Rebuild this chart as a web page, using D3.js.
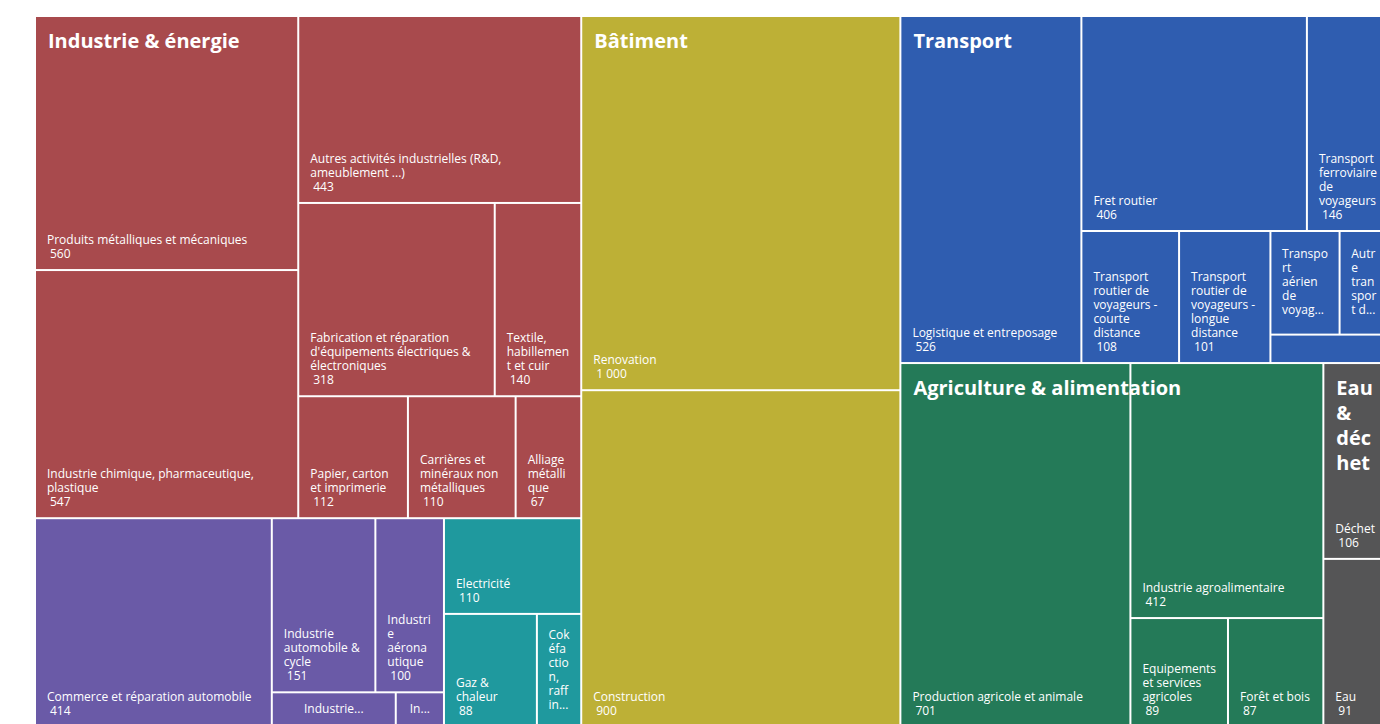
<!DOCTYPE html>
<html>
<head>
<meta charset="utf-8">
<script src="https://cdn.jsdelivr.net/npm/d3@7"></script>
<style>
  body { margin: 0; background: #fff; }
  svg { display: block; }
</style>
</head>
<body>
<section></section>
<script>
// Emplois par secteur

var groupes = ["Industrie & énergie", "Bâtiment", "Transport", "Agriculture & alimentation", "Eau & déchet"]

var industrieNoms = ["Produits métalliques et mécaniques", "Industrie chimique, pharmaceutique, plastique",
  "Autres activités industrielles (R&D, ameublement ...)", "Fabrication et réparation d'équipements électriques & électroniques",
  "Textile, habillement et cuir", "Papier, carton et imprimerie", "Carrières et minéraux non métalliques", "Alliage métallique"]
var industrieValeurs = [560, 547, 443, 318, 140, 112, 110, 67]

var automobileNoms = ["Commerce et réparation automobile", "Industrie automobile & cycle", "Industrie aéronautique",
  "Industrie ferroviaire", "Industrie navale"]
var automobileValeurs = [414, 151, 100, 36, 14]

var energieNoms = ["Electricité", "Gaz & chaleur", "Cokéfaction, raffinage"]
var energieValeurs = [110, 88, 42]

var batimentNoms = ["Renovation", "Construction"]
var batimentValeurs = [1000, 900]

var transportNoms = ["Logistique et entreposage", "Fret routier", "Transport ferroviaire de voyageurs",
  "Transport routier de voyageurs - courte distance", "Transport routier de voyageurs - longue distance",
  "Transport aérien de voyageurs", "Autre transport de voyageurs", "Transport fluvial"]
var transportValeurs = [526, 406, 146, 108, 101, 60, 42, 28]

var agricultureNoms = ["Production agricole et animale", "Industrie agroalimentaire", "Equipements et services agricoles", "Forêt et bois"]
var agricultureValeurs = [701, 412, 89, 87]

var eauNoms = ["Déchet", "Eau"]
var eauValeurs = [106, 91]

// couleurs par groupe / sous-groupe
var couleurs = {
  "Industrie": "#a84a4d",
  "Automobile & aéronautique": "#6a5aa7",
  "Énergie": "#1f999e",
  "Bâtiment": "#bdb036",
  "Transport": "#2f5db0",
  "Agriculture & alimentation": "#247a58",
  "Eau & déchet": "#555556"
}

// nombre d'éléments par rangée (découpage du treemap)
var rangees = {
  "Industrie": [2, 1, 2, 1, 1, 1],
  "Transport": [1, 2, 1, 1, 2, 1],
  "Automobile & aéronautique": [1, 2, 1, 1]
}

function feuilles(noms, valeurs) {
  return noms.map(function (n, i) { return { nom: n, valeur: valeurs[i] } })
}

var donnees = {
  nom: "Total",
  children: [
    { nom: groupes[0], children: [
      { nom: "Industrie", children: feuilles(industrieNoms, industrieValeurs) },
      { nom: "Automobile & aéronautique", children: feuilles(automobileNoms, automobileValeurs) },
      { nom: "Énergie", children: feuilles(energieNoms, energieValeurs) }
    ] },
    { nom: groupes[1], children: feuilles(batimentNoms, batimentValeurs) },
    { nom: groupes[2], children: feuilles(transportNoms, transportValeurs) },
    { nom: groupes[3], children: feuilles(agricultureNoms, agricultureValeurs) },
    { nom: groupes[4], children: feuilles(eauNoms, eauValeurs) }
  ]
}

var width = 1380
var height = 724
var margin = { top: 17, left: 36 }

var svg = d3.select("section")
  .append("svg")
  .attr("width", width)
  .attr("height", height)

// tuile : rangées successives le long du côté le plus court
function tuiles(parent, x0, y0, x1, y1) {
  var enfants = parent.children
  var comptes = rangees[parent.data.nom] || enfants.map(function () { return 1 })
  var reste = parent.value, i = 0
  comptes.forEach(function (c) {
    var rangee = { children: enfants.slice(i, i + c) }
    rangee.value = d3.sum(rangee.children, function (d) { return d.value })
    var dx = x1 - x0, dy = y1 - y0
    if (dx < dy) d3.treemapDice(rangee, x0, y0, x1, y0 += dy * rangee.value / reste)
    else d3.treemapSlice(rangee, x0, y0, x0 += dx * rangee.value / reste, y1)
    reste -= rangee.value
    i += c
  })
}

var racine = d3.hierarchy(donnees)
  .sum(function (d) { return d.valeur })
  .sort(function (a, b) { return b.value - a.value })

d3.treemap()
  .tile(tuiles)
  .size([1351, 709])
  .paddingInner(2)
  (racine)

var fmt = d3.formatLocale({ decimal: ",", thousands: "\u00a0", grouping: [3], currency: ["", " €"] }).format(",d")

var ctx = document.createElement("canvas").getContext("2d")
function largeur(txt, police) { ctx.font = police; return ctx.measureText(txt).width }

// découpe en lignes, un mot trop long est coupé
function couper(texte, maxL, police) {
  var lignes = [], ligne = ""
  texte.split(" ").forEach(function (mot) {
    var essai = ligne ? ligne + " " + mot : mot
    if (largeur(essai, police) <= maxL) { ligne = essai; return }
    if (ligne) lignes.push(ligne)
    var r = mot
    while (r.length > 1 && largeur(r, police) > maxL) {
      var k = r.length - 1
      while (k > 1 && largeur(r.slice(0, k), police) > maxL) k--
      lignes.push(r.slice(0, k))
      r = r.slice(k)
    }
    ligne = r
  })
  if (ligne) lignes.push(ligne)
  return lignes
}

var plan = svg.append("g").attr("transform", "translate(" + margin.left + "," + margin.top + ")")

var cellules = plan.selectAll("g.cellule")
  .data(racine.leaves())
  .join("g")
  .attr("class", "cellule")

cellules.append("rect")
  .attr("x", function (d) { return d.x0 })
  .attr("y", function (d) { return d.y0 })
  .attr("width", function (d) { return d.x1 - d.x0 })
  .attr("height", function (d) { return d.y1 - d.y0 })
  .attr("fill", function (d) { return couleurs[d.parent.data.nom] })

var police = "12px 'Open Sans'"
var pas = 14

cellules.each(function (d) {
  var w = d.x1 - d.x0, h = d.y1 - d.y0
  var maxL = w - 20
  var maxLignes = Math.floor((h - 18) / pas)
  if (maxLignes < 1 || maxL < 5) return
  var lignes = couper(d.data.nom, maxL, police)
  var t = d3.select(this).append("text")
    .attr("fill", "#fff")
    .style("font", police)
  if (lignes.length + 1 <= maxLignes) {
    var base = d.y1 - 11
    lignes.forEach(function (l, i) {
      t.append("tspan").attr("x", d.x0 + 11).attr("y", base - (lignes.length - i) * pas).text(l)
    })
    t.append("tspan").attr("x", d.x0 + 14).attr("y", base).text(fmt(d.value))
  } else {
    lignes = lignes.slice(0, maxLignes)
    var der = lignes[lignes.length - 1]
    while (der.length > 1 && largeur(der + "...", police) > maxL) der = der.slice(0, -1)
    lignes[lignes.length - 1] = der + "..."
    var bw = d3.max(lignes, function (l) { return largeur(l, police) })
    var xl = (d.x0 + d.x1) / 2 - bw / 2
    var haut = (d.y0 + d.y1) / 2 - lignes.length * pas / 2
    lignes.forEach(function (l, i) {
      t.append("tspan").attr("x", xl).attr("y", haut + i * pas + 10.5).text(l)
    })
  }
})

// titres des groupes
var policeTitre = "bold 20px 'Open Sans'"
racine.children.forEach(function (g) {
  var lignes = couper(g.data.nom, g.x1 - g.x0 - 24, policeTitre)
  var t = plan.append("text").attr("fill", "#fff").style("font", policeTitre)
  lignes.forEach(function (l, i) {
    t.append("tspan").attr("x", g.x0 + 12).attr("y", g.y0 + 31 + i * 25).text(l)
  })
})
</script>
</body>
</html>
